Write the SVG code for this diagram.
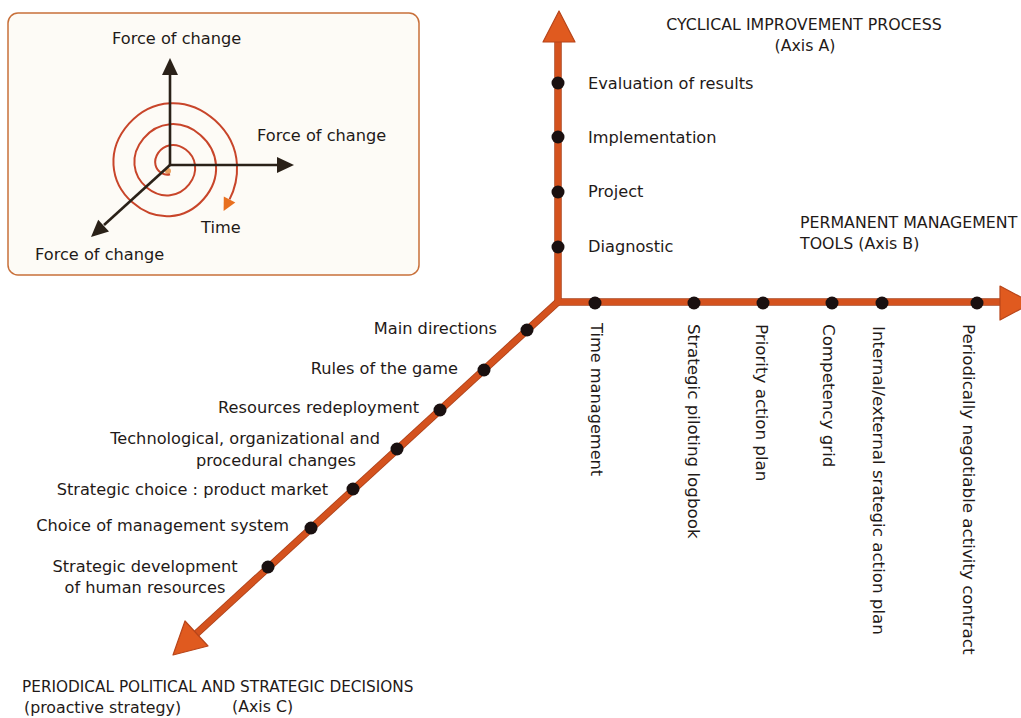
<svg xmlns="http://www.w3.org/2000/svg" width="1021" height="718" viewBox="0 0 1021 718">
<style>
text{font-family:"DejaVu Sans","Liberation Sans",sans-serif;font-size:16.2px;fill:#1f1a18}
.cap{font-size:15.8px}
.vert{font-size:16.7px}
.axis{stroke:#d4521e;stroke-width:6;fill:none;stroke-linecap:butt}
.axisedge{stroke:#a9401a;stroke-width:7.5;fill:none}
.head{fill:#e05a1f;stroke:#b8451a;stroke-width:1.2;stroke-linejoin:round}
.dot{fill:#1a1010}
.ink{stroke:#2a2118;stroke-width:2.6;fill:none}
.inkhead{fill:#2a2118}
.spiral{stroke:#c8452a;stroke-width:2;fill:none}
</style>
<rect width="1021" height="718" fill="#ffffff"/>

<g id="inset">
  <rect x="8" y="13" width="411" height="262" rx="10" fill="#fdfbf6" stroke="#c8703a" stroke-width="1.5"/>
  <circle cx="168" cy="171" r="3" fill="#e8a060"/>
  <path class="spiral" d="M 170 174.25 C 165.16 176 157.25 172.59 155.5 165 C 153.75 157.41 159.66 147 170 145.25 C 180.34 143.5 193.25 151.91 195 165 C 196.75 178.09 185.84 193.5 170 195.25 C 154.16 197 136.25 183.59 134.5 165 C 132.75 146.41 148.66 126 170 124.25 C 191.34 122.5 214.25 140.91 216 165 C 217.75 189.09 196.83 214.5 170 216.25 C 143.17 218 115.25 194.58 113.5 165 C 111.75 135.42 137.67 105 170 103.25 C 202.33 101.5 235.25 129.92 237 165 C 237.58 176.69 235.03 188.7 229.54 199.38"/>
  <polygon points="235.3,202.4 223.6,210.9 223.8,196.4" fill="#e8701f"/>
  <line class="ink" x1="170" y1="165" x2="170" y2="74"/>
  <polygon class="inkhead" points="170,58 162,75 178,75"/>
  <line class="ink" x1="169" y1="165" x2="278" y2="165"/>
  <polygon class="inkhead" points="294,165 277,157 277,173"/>
  <line class="ink" x1="170" y1="165" x2="104" y2="225"/>
  <polygon class="inkhead" points="91,237 109,231.5 98.2,219.7"/>
  <text x="112" y="44">Force of change</text>
  <text x="257" y="141">Force of change</text>
  <text x="35" y="260">Force of change</text>
  <text x="201" y="233">Time</text>
</g>

<g id="connectors">
  <line class="axisedge" x1="558" y1="305" x2="558" y2="41"/>
  <line class="axisedge" x1="555" y1="302" x2="1001" y2="302"/>
  <line class="axisedge" x1="560" y1="300" x2="196" y2="634"/>
  <line class="axis" x1="558" y1="305" x2="558" y2="41"/>
  <line class="axis" x1="555" y1="302" x2="1001" y2="302"/>
  <line class="axis" x1="560" y1="300" x2="196" y2="634"/>
  <polygon class="head" points="559,11 543,42 575,42"/>
  <polygon class="head" points="1000,286 1032,303 1000,320"/>
  <polygon class="head" points="173,655 208,646 185,621"/>
</g>

<g id="axis-a-title">
  <text class="cap" x="804" y="30" text-anchor="middle">CYCLICAL IMPROVEMENT PROCESS</text>
  <text class="cap" x="805" y="51" text-anchor="middle">(Axis A)</text>
</g>
<g id="axis-b-title">
  <text class="cap" x="800" y="228">PERMANENT MANAGEMENT</text>
  <text class="cap" x="800" y="249">TOOLS (Axis B)</text>
</g>
<g id="axis-c-title">
  <text class="cap" x="22" y="692" style="font-size:15.3px">PERIODICAL POLITICAL AND STRATEGIC DECISIONS</text>
  <text class="cap" x="24" y="713">(proactive strategy)</text>
  <text class="cap" x="232" y="712">(Axis C)</text>
</g>

<g id="a-evaluation"><circle class="dot" cx="558" cy="83" r="6.5"/><text x="588" y="89">Evaluation of results</text></g>
<g id="a-implementation"><circle class="dot" cx="558" cy="137" r="6.5"/><text x="588" y="143">Implementation</text></g>
<g id="a-project"><circle class="dot" cx="558" cy="192" r="6.5"/><text x="588" y="197">Project</text></g>
<g id="a-diagnostic"><circle class="dot" cx="558" cy="247" r="6.5"/><text x="588" y="252">Diagnostic</text></g>

<g id="b-time"><circle class="dot" cx="595" cy="303" r="6.5"/><text transform="translate(591 323) rotate(90)">Time management</text></g>
<g id="b-logbook"><circle class="dot" cx="694" cy="303" r="6.5"/><text class="vert" transform="translate(688 324) rotate(90)">Strategic piloting logbook</text></g>
<g id="b-priority"><circle class="dot" cx="763" cy="303" r="6.5"/><text class="vert" transform="translate(756 324) rotate(90)">Priority action plan</text></g>
<g id="b-competency"><circle class="dot" cx="832" cy="303" r="6.5"/><text class="vert" transform="translate(823 324) rotate(90)">Competency grid</text></g>
<g id="b-internal"><circle class="dot" cx="882" cy="303" r="6.5"/><text class="vert" transform="translate(873 326) rotate(90)">Internal/external srategic action plan</text></g>
<g id="b-contract"><circle class="dot" cx="977" cy="303" r="6.5"/><text class="vert" transform="translate(963 324) rotate(90)">Periodically negotiable activity contract</text></g>

<g id="c-main"><circle class="dot" cx="527" cy="330" r="6.5"/><text x="497" y="334" text-anchor="end">Main directions</text></g>
<g id="c-rules"><circle class="dot" cx="484" cy="370" r="6.5"/><text x="458" y="374" text-anchor="end">Rules of the game</text></g>
<g id="c-resources"><circle class="dot" cx="440" cy="410" r="6.5"/><text x="419" y="413" text-anchor="end">Resources redeployment</text></g>
<g id="c-tech"><circle class="dot" cx="397" cy="449" r="6.5"/><text x="380" y="444" text-anchor="end">Technological, organizational and</text><text x="356" y="466" text-anchor="end">procedural changes</text></g>
<g id="c-choice"><circle class="dot" cx="353" cy="489" r="6.5"/><text x="328" y="495" text-anchor="end">Strategic choice : product market</text></g>
<g id="c-management"><circle class="dot" cx="311" cy="528" r="6.5"/><text x="289" y="531" text-anchor="end">Choice of management system</text></g>
<g id="c-hr"><circle class="dot" cx="268" cy="567" r="6.5"/><text x="145" y="572" text-anchor="middle">Strategic development</text><text x="145" y="593" text-anchor="middle">of human resources</text></g>
</svg>
